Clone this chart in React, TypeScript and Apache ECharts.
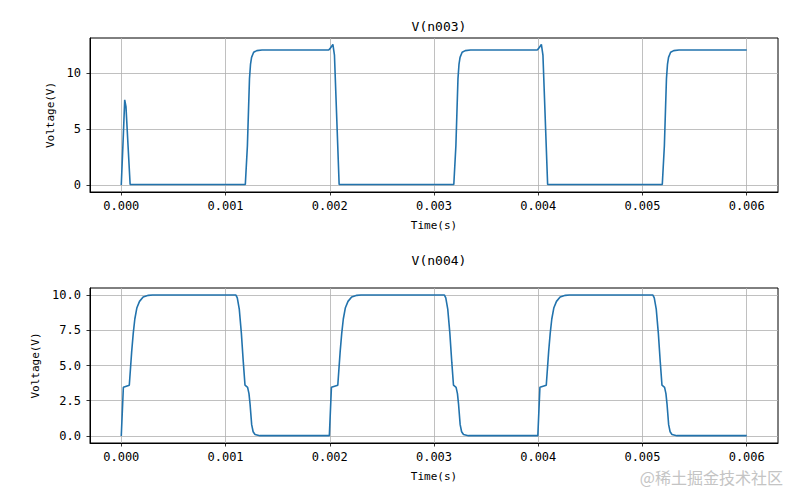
import React, { useEffect, useRef } from "react";
import * as echarts from "echarts";

// V(n003) samples (time in s, voltage in V)
const n003Time = [
  0, 0.00002, 0.000033, 0.000045, 0.000065, 0.000085,
  0.00119, 0.00121, 0.00123, 0.00124, 0.00125, 0.00127, 0.0013, 0.00135,
  0.00199, 0.002, 0.00203, 0.002045, 0.00209,
  0.00319, 0.00321, 0.00323, 0.00324, 0.00325, 0.00327, 0.0033, 0.00335,
  0.00399, 0.004, 0.00403, 0.004045, 0.00409,
  0.00519, 0.00521, 0.00523, 0.00524, 0.00525, 0.00527, 0.0053, 0.00535,
  0.006,
];
const n003Volt = [
  0, 4.5, 7.6, 7.0, 3.5, 0.05,
  0.05, 3.5, 9.5, 10.8, 11.4, 11.85, 12.0, 12.05,
  12.05, 12.15, 12.55, 11.6, 0.05,
  0.05, 3.5, 9.5, 10.8, 11.4, 11.85, 12.0, 12.05,
  12.05, 12.15, 12.55, 11.6, 0.05,
  0.05, 3.5, 9.5, 10.8, 11.4, 11.85, 12.0, 12.05,
  12.05,
];

// V(n004) samples
const n004Time = [
  0, 0.00002, 0.000077, 0.0001, 0.000115, 0.00013, 0.00015, 0.000175, 0.00021, 0.00026, 0.0003,
  0.0011, 0.001113, 0.001132, 0.001152, 0.001171, 0.001187, 0.001212, 0.001225, 0.001235, 0.001251, 0.001265, 0.001283, 0.00133,
  0.001996, 0.002016, 0.002077, 0.0021, 0.002115, 0.00213, 0.00215, 0.002175, 0.00221, 0.00226, 0.0023,
  0.0031, 0.003113, 0.003132, 0.003152, 0.003171, 0.003187, 0.003212, 0.003225, 0.003235, 0.003251, 0.003265, 0.003283, 0.00333,
  0.003996, 0.004016, 0.004077, 0.0041, 0.004115, 0.00413, 0.00415, 0.004175, 0.00421, 0.00426, 0.0043,
  0.0051, 0.005113, 0.005132, 0.005152, 0.005171, 0.005187, 0.005212, 0.005225, 0.005235, 0.005251, 0.005265, 0.005283, 0.00533,
  0.006,
];
const n004Volt = [
  0, 3.45, 3.6, 6.0, 7.3, 8.3, 9.1, 9.55, 9.86, 9.98, 10,
  10, 9.8, 9.0, 7.3, 5.2, 3.6, 3.45, 3.0, 2.3, 0.8, 0.3, 0.1, 0.02,
  0.02, 3.45, 3.6, 6.0, 7.3, 8.3, 9.1, 9.55, 9.86, 9.98, 10,
  10, 9.8, 9.0, 7.3, 5.2, 3.6, 3.45, 3.0, 2.3, 0.8, 0.3, 0.1, 0.02,
  0.02, 3.45, 3.6, 6.0, 7.3, 8.3, 9.1, 9.55, 9.86, 9.98, 10,
  10, 9.8, 9.0, 7.3, 5.2, 3.6, 3.45, 3.0, 2.3, 0.8, 0.3, 0.1, 0.02,
  0.02,
];

const xTicks = [0, 0.001, 0.002, 0.003, 0.004, 0.005, 0.006];
const y1Ticks = [0, 5, 10];
const y2Ticks = [0, 2.5, 5, 7.5, 10];

const titles = ["V(n003)", "V(n004)"];
const xName = "Time(s)";
const yName = "Voltage(V)";
const watermark = "@稀土掘金技术社区";

const MONO = "'DejaVu Sans Mono', monospace";
const LINE = "#2273ad";
const GRIDC = "#b0b0b0";

function xAxis(gridIndex: number) {
  return {
    type: "value",
    gridIndex,
    min: -0.0003,
    max: 0.0063,
    axisLine: { show: true, onZero: false, lineStyle: { color: "#000", width: 1 } },
    axisTick: { show: true, customValues: xTicks, length: 3.5, lineStyle: { color: "#000", width: 0.8 } },
    axisLabel: {
      customValues: xTicks,
      formatter: (v: number) => v.toFixed(3),
      color: "#000",
      fontSize: 12,
      fontFamily: MONO,
      margin: 8,
    },
    splitLine: { show: true, lineStyle: { color: GRIDC, width: 0.8 } },
    name: xName,
    nameLocation: "middle",
    nameGap: 28,
    nameTextStyle: { color: "#000", fontSize: 11, fontFamily: MONO },
  };
}

function yAxis(gridIndex: number, min: number, max: number, ticks: number[], dec: number, gap: number) {
  return {
    type: "value",
    gridIndex,
    min,
    max,
    axisLine: { show: true, onZero: false, lineStyle: { color: "#000", width: 1 } },
    axisTick: { show: true, customValues: ticks, length: 3.5, lineStyle: { color: "#000", width: 0.8 } },
    axisLabel: {
      customValues: ticks,
      formatter: (v: number) => v.toFixed(dec),
      color: "#000",
      fontSize: 12,
      fontFamily: MONO,
      margin: 9,
    },
    splitLine: { show: true, lineStyle: { color: GRIDC, width: 0.8 } },
    name: yName,
    nameLocation: "middle",
    nameGap: gap,
    nameTextStyle: { color: "#000", fontSize: 11, fontFamily: MONO },
  };
}

export default function App() {
  const ref = useRef<HTMLDivElement>(null);
  useEffect(() => {
    if (!ref.current) return;
    const chart = echarts.init(ref.current, null, { renderer: "svg" });
    const d1 = n003Time.map((t, i) => [t, n003Volt[i]]);
    const d2 = n004Time.map((t, i) => [t, n004Volt[i]]);
    chart.setOption({
      animation: false,
      backgroundColor: "#fff",
      title: [
        { text: titles[0], left: 434, top: 15, textAlign: "center", textStyle: { fontSize: 13, fontWeight: "normal", color: "#000", fontFamily: MONO } },
        { text: titles[1], left: 434, top: 249, textAlign: "center", textStyle: { fontSize: 13, fontWeight: "normal", color: "#000", fontFamily: MONO } },
      ],
      grid: [
        { left: 90, top: 38, width: 688, height: 154, show: true, borderColor: "#000", borderWidth: 1, backgroundColor: "transparent", containLabel: false },
        { left: 90, top: 288, width: 688, height: 155, show: true, borderColor: "#000", borderWidth: 1, backgroundColor: "transparent", containLabel: false },
      ],
      xAxis: [xAxis(0), xAxis(1)],
      yAxis: [yAxis(0, -0.625, 13.125, y1Ticks, 0, 31), yAxis(1, -0.5, 10.5, y2Ticks, 1, 46)],
      series: [
        { type: "line", xAxisIndex: 0, yAxisIndex: 0, data: d1, showSymbol: false, symbol: "none", lineStyle: { color: LINE, width: 1.6 }, itemStyle: { color: LINE } },
        { type: "line", xAxisIndex: 1, yAxisIndex: 1, data: d2, showSymbol: false, symbol: "none", lineStyle: { color: LINE, width: 1.6 }, itemStyle: { color: LINE } },
      ],
      graphic: [
        {
          type: "text",
          right: 17,
          top: 469,
          style: { text: watermark, fill: "#c4c4c4", fontSize: 16, fontFamily: "'Noto Sans CJK SC', sans-serif" },
        },
      ],
    });
    return () => chart.dispose();
  }, []);
  return <div ref={ref} style={{ width: 800, height: 500, position: "absolute", left: 0, top: 0 }} />;
}
